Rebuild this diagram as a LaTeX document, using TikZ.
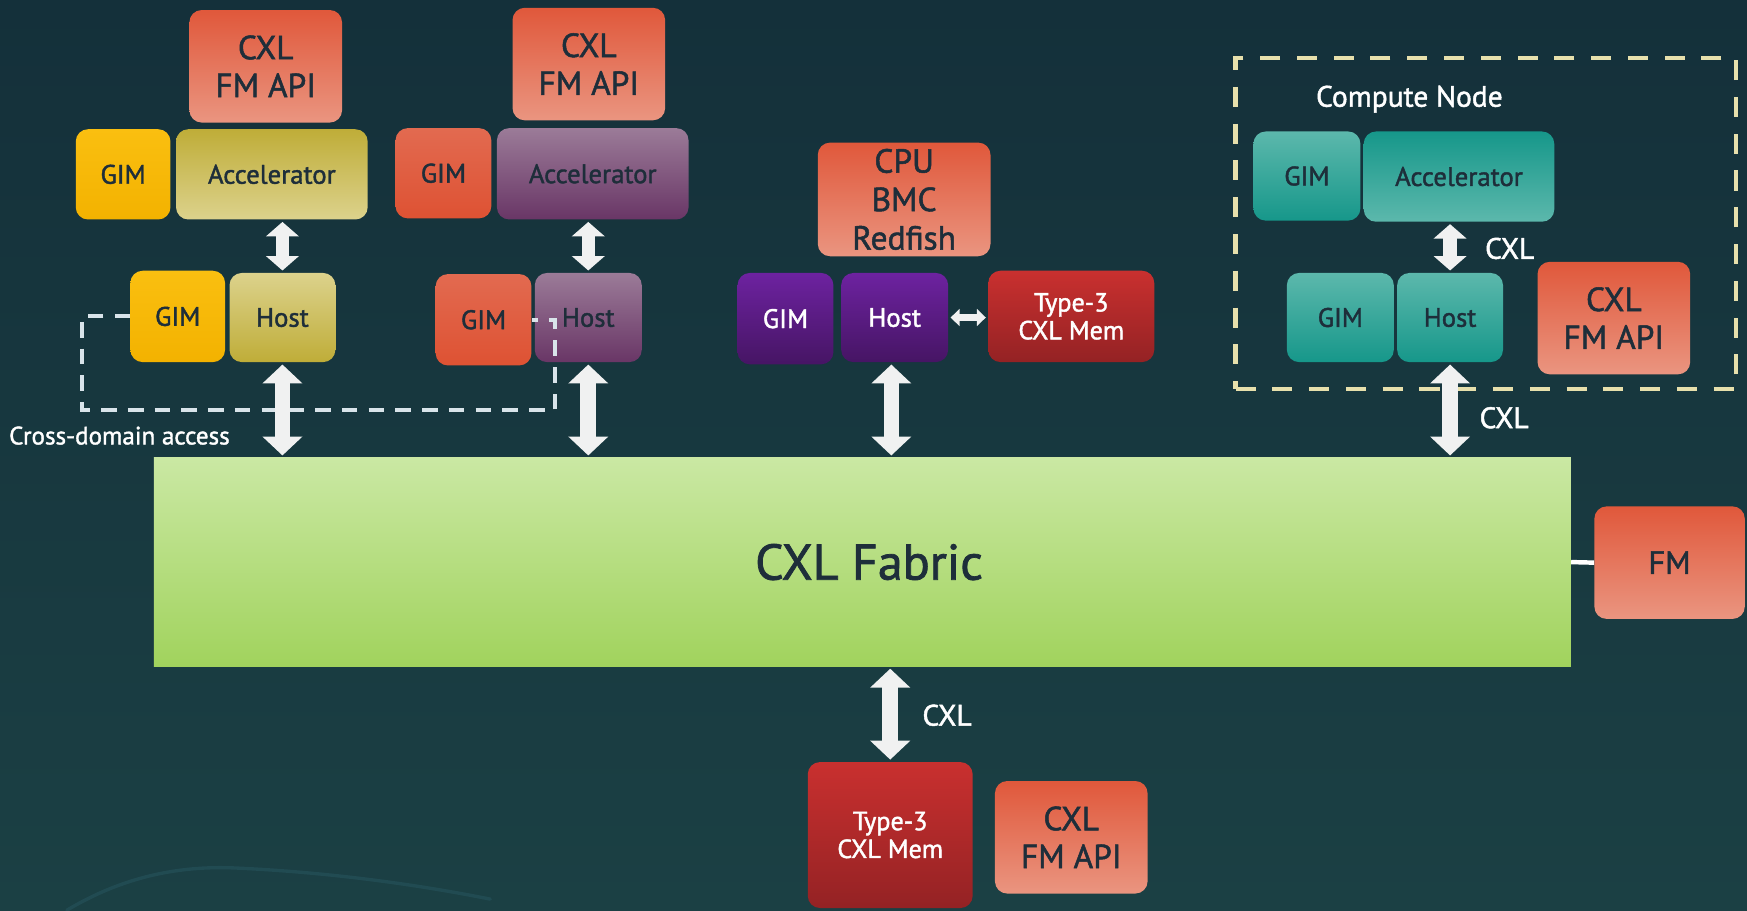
\documentclass[tikz,border=0pt]{standalone}
\usepackage{fontspec}
\setmainfont{PT Sans}[FakeBold=1.5,UprightFont=*,BoldFont=*]
\usetikzlibrary{arrows.meta,calc}

% palette
\definecolor{bgTop}{HTML}{14303A}
\definecolor{bgBot}{HTML}{1B4044}
\definecolor{bgArc}{HTML}{2A5A64}
\definecolor{ink}{HTML}{1E2E3A}
\definecolor{salA}{HTML}{E0583B}
\definecolor{salB}{HTML}{EA9580}
\definecolor{yelA}{HTML}{FABF10}
\definecolor{yelB}{HTML}{F3B200}
\definecolor{oliA}{HTML}{BFAD38}
\definecolor{oliB}{HTML}{DCD28C}
\definecolor{orgA}{HTML}{E26A50}
\definecolor{orgB}{HTML}{DE5233}
\definecolor{mauA}{HTML}{9B7B98}
\definecolor{mauB}{HTML}{693666}
\definecolor{vioA}{HTML}{6D22A0}
\definecolor{vioB}{HTML}{461564}
\definecolor{redA}{HTML}{C9302F}
\definecolor{redB}{HTML}{942224}
\definecolor{tealL}{HTML}{5CB8AC}
\definecolor{tealD}{HTML}{16978A}
\definecolor{fabA}{HTML}{CAE8A3}
\definecolor{fabB}{HTML}{A1D35D}
\definecolor{arrowc}{HTML}{F0F1F1}
\definecolor{dashc}{HTML}{D9E4EA}
\definecolor{cnodec}{HTML}{E7E0AC}

\tikzset{
  box/.style={rounded corners=11pt, inner sep=0pt, align=center, text=ink},
  sz/.style 2 args={minimum width=#1pt, minimum height=#2pt},
  apibox/.style={box, top color=salA, bottom color=salB,
    font={\fontsize{30}{34}\bfseries}},
  unit/.style={box, font={\fontsize{24}{26}\bfseries}},
  yel/.style={unit, top color=yelA, bottom color=yelB},
  olidown/.style={unit, top color=oliA, bottom color=oliB},
  oliup/.style={unit, top color=oliB, bottom color=oliA},
  org/.style={unit, top color=orgA, bottom color=orgB},
  mau/.style={unit, top color=mauA, bottom color=mauB},
  vio/.style={unit, top color=vioA, bottom color=vioB, text=white},
  tealdown/.style={unit, top color=tealL, bottom color=tealD},
  tealup/.style={unit, top color=tealD, bottom color=tealL},
  membox/.style={box, top color=redA, bottom color=redB, text=white,
    font={\fontsize{23.5}{25}\bfseries}},
  note/.style={text=white, inner sep=0pt, font={\fontsize{26.5}{28}\bfseries}},
  bigarrow/.style={draw=arrowc, line width=14pt,
    {Triangle[length=17pt,width=35pt]}-{Triangle[length=17pt,width=35pt]},
    shorten <=2pt, shorten >=2pt},
  smallarrow/.style={draw=arrowc, line width=12pt,
    {Triangle[length=13pt,width=29pt]}-{Triangle[length=13pt,width=29pt]},
    shorten <=2pt, shorten >=2pt},
  tinyarrow/.style={draw=arrowc, line width=6pt,
    {Triangle[length=8pt,width=15pt]}-{Triangle[length=8pt,width=15pt]},
    shorten <=2pt, shorten >=2pt},
  link/.style={draw=white, line width=4pt},
  crossdash/.style={draw=dashc, line width=3.6pt, dash pattern=on 14pt off 10pt},
  groupbox/.style={draw=cnodec, line width=4pt, dash pattern=on 18pt off 15pt,
    inner sep=0pt},
}

\begin{document}
\begin{tikzpicture}[x=1pt, y=1pt]
  \useasboundingbox (0,0) rectangle (1568,817);
  \shade[top color=bgTop, bottom color=bgBot] (0,0) rectangle (1568,817);
  % faint swoosh in the lower left corner of the backdrop
  \draw[bgArc, line width=3pt, opacity=0.45, line cap=round]
    (60,0) .. controls (110,30) and (160,40) .. (210,38)
           .. controls (300,34) and (380,22) .. (440,10);

  % first host with accelerator (yellow domain)
  \node[apibox, sz={137}{101}] (fmapi1) at (238.5,757.5) {CXL\\FM API};
  \node[yel, sz={85}{81}] (gimA) at (110.5,660.5) {GIM};
  \node[olidown, sz={172}{81}] (accA) at (244,660.5) {Accelerator};
  \node[yel, sz={85}{82}] (gimB) at (159.5,533) {GIM};
  \node[oliup, sz={95}{80}] (hostA) at (253.5,532) {Host};

  % second host with accelerator (purple domain)
  \node[apibox, sz={137}{101}] (fmapi2) at (528.5,759.5) {CXL\\FM API};
  \node[org, sz={86}{81}] (gimC) at (398,661.5) {GIM};
  \node[mau, sz={172}{82}] (accB) at (532,661) {Accelerator};
  \node[org, sz={86}{82}] (gimD) at (434,530) {GIM};
  \node[mau, sz={96}{80}] (hostB) at (528,532) {Host};

  % host with local memory and BMC
  \node[apibox, sz={155}{102}, font={\fontsize{30}{34.5}\bfseries}] (cpu) at (811.5,638) {CPU\\BMC\\Redfish};
  \node[vio, sz={86}{82}] (gimE) at (705,531) {GIM};
  \node[vio, sz={96}{80}] (hostC) at (803,532) {Host};
  \node[membox, sz={149}{82}] (memA) at (961.5,533) {Type-3\\CXL Mem};

  % compute node group
  \node[groupbox, sz={449}{297}] (cnode) at (1333.5,616.5) {};
  \node[note] (cnTitle) at (1265,728) {Compute Node};
  \node[tealdown, sz={96}{80}] (gimF) at (1173,659) {GIM};
  \node[tealup, sz={171}{81}] (accC) at (1309.5,658.5) {Accelerator};
  \node[tealdown, sz={96}{80}] (gimG) at (1203,532) {GIM};
  \node[tealdown, sz={95}{80}] (hostD) at (1301.5,532) {Host};
  \node[apibox, sz={137}{101}] (fmapi3) at (1448.5,531.5) {CXL\\FM API};

  % fabric and fabric manager
  \node[inner sep=0pt, sz={1272}{187}, top color=fabA, bottom color=fabB,
        text=ink, font={\fontsize{45}{50}\bfseries}] (fabric) at (774,312.5) {\hspace*{12pt}CXL Fabric};
  \node[apibox, sz={135}{101}, font={\fontsize{29}{32}\bfseries}] (fm) at (1498.5,312) {FM};

  % pooled memory device
  \node[membox, sz={148}{131}] (memB) at (799,67.5) {Type-3\\CXL Mem};
  \node[apibox, sz={137}{101}] (fmapi4) at (961.5,65.5) {CXL\\FM API};

  % cross-domain path between the two GIMs
  \draw[crossdash] (gimB.west) -- ++(-43,0) -- ++(0,-84)
    -| ($(gimD.east)+(21,0)$) -- (gimD.east);
  \node[note, anchor=west, font={\fontsize{22.5}{24}\bfseries}] (xdom) at (8,426) {Cross-domain access};

  % links
  \draw[smallarrow] (hostA.north |- accA.south) -- (hostA.north);
  \draw[bigarrow] (hostA.south) -- (hostA.south |- fabric.north);
  \draw[smallarrow] (hostB.north |- accB.south) -- (hostB.north);
  \draw[bigarrow] (hostB.south) -- (hostB.south |- fabric.north);
  \draw[bigarrow] ([xshift=-3pt]hostC.south) -- ([xshift=-3pt]hostC.south |- fabric.north);
  \draw[tinyarrow] (hostC.east) -- (hostC.east -| memA.west);
  \draw[smallarrow] (hostD.north |- accC.south) -- (hostD.north);
  \draw[bigarrow] (hostD.south) -- (hostD.south |- fabric.north);
  \draw[bigarrow] (memB.north |- fabric.south) -- (memB.north);
  \draw[link] (fabric.east) -- (fm.west);

  \node[note] (cxlA) at (1355,594) {CXL};
  \node[note] (cxlB) at (1350,442) {CXL};
  \node[note] (cxlC) at (850,175) {CXL};
\end{tikzpicture}
\end{document}
